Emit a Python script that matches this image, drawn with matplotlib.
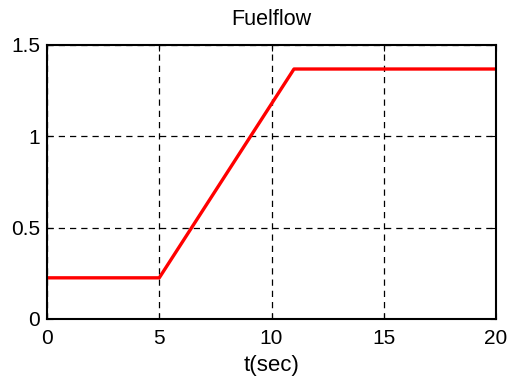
import numpy as np
import matplotlib
matplotlib.use("Agg")
import matplotlib.pyplot as plt

plt.rcParams['font.family'] = ['Liberation Sans', 'DejaVu Sans']

t = [0, 5, 11, 20]
fuel = [0.225, 0.225, 1.367, 1.367]
xticks = [0, 5, 10, 15, 20]
yticks = [0, 0.5, 1, 1.5]
ylabels = ['0', '0.5', '1', '1.5']

fig = plt.figure(figsize=(5.08, 3.82), dpi=100)
ax = fig.add_axes([0.0925, 0.165, 0.884, 0.718])
ax.plot(t, fuel, color='red', lw=2.4)
ax.set_xlim(0, 20)
ax.set_ylim(0, 1.5)
ax.set_xticks(xticks)
ax.set_yticks(yticks)
ax.set_yticklabels(ylabels)
ax.grid(True, color='black', linestyle=(0, (5, 4)), lw=0.9)
ax.tick_params(direction='in', labelsize=15, top=True, right=True, length=4)
ax.tick_params(axis='x', pad=7)
ax.tick_params(axis='y', pad=5)
for s in ax.spines.values():
    s.set_linewidth(1.5)
ax.set_title('Fuelflow', fontsize=15.5, pad=14)
ax.set_xlabel('t(sec)', fontsize=16, labelpad=5)

fig.savefig('out.png', dpi=100)
